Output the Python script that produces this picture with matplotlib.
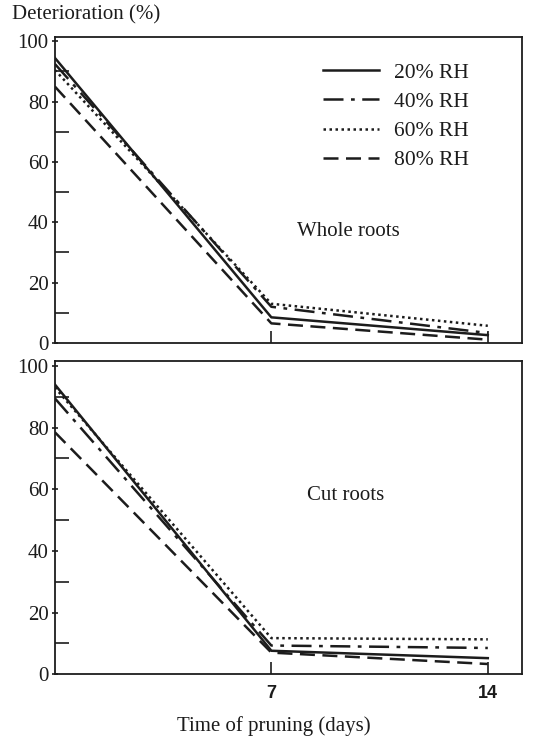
import matplotlib
matplotlib.use('Agg')
import matplotlib.pyplot as plt

plt.rcParams['font.family'] = ['Liberation Serif', 'DejaVu Serif']

days = [0, 7, 14]

labels = ['20% RH', '40% RH', '60% RH', '80% RH']

# whole roots, deterioration (%)
whole_20 = [94.5, 8.5, 2.6]
whole_40 = [92.5, 12.0, 3.3]
whole_60 = [90.5, 13.0, 5.7]
whole_80 = [85.0, 6.5, 1.1]

# cut roots, deterioration (%)
cut_20 = [94.0, 7.6, 5.2]
cut_40 = [89.5, 9.3, 8.5]
cut_60 = [93.0, 11.7, 11.3]
cut_80 = [78.5, 7.0, 3.3]

styles = ['-', (0, (8, 3, 1.5, 3)), (0, (1, 1.4)), (0, (6, 3))]
ink = '#1c1c1c'

fig = plt.figure(figsize=(5.33, 7.36), dpi=100)
ax_top = fig.add_axes([0.103, 0.534, 0.876, 0.416])
ax_bot = fig.add_axes([0.103, 0.084, 0.876, 0.425])


def setup(ax, show_x):
    ax.set_xlim(0, 15.1)
    ax.set_ylim(0, 101.5)
    ax.set_yticks([0, 20, 40, 60, 80, 100])
    ax.set_yticks([10, 30, 50, 70, 90], minor=True)
    ax.set_xticks([7, 14])
    ax.tick_params(axis='y', which='major', direction='inout', length=5,
                   width=1.2, color=ink, labelsize=15, pad=2,
                   labelcolor=ink)
    ax.tick_params(axis='y', which='minor', direction='in', length=10,
                   width=1.2, color=ink)
    ax.tick_params(axis='x', direction='in', length=9, width=1.2,
                   color=ink, pad=8, labelcolor=ink, labelbottom=show_x)
    for lbl in ax.get_xticklabels():
        lbl.set_fontfamily('Liberation Sans')
        lbl.set_fontweight('bold')
        lbl.set_fontsize(13)
    for sp in ax.spines.values():
        sp.set_color(ink)
        sp.set_linewidth(1.3)


for ys, lab, ls in zip([whole_20, whole_40, whole_60, whole_80], labels, styles):
    ax_top.plot(days, ys, linestyle=ls, color=ink, linewidth=1.8, label=lab)
for ys, lab, ls in zip([cut_20, cut_40, cut_60, cut_80], labels, styles):
    ax_bot.plot(days, ys, linestyle=ls, color=ink, linewidth=1.8, label=lab)

setup(ax_top, False)
setup(ax_bot, True)

ax_top.legend(loc='upper left', bbox_to_anchor=(0.574, 0.915), frameon=False,
              fontsize=15.5, handlelength=2.6, handletextpad=0.7,
              labelspacing=0.42, borderpad=0, borderaxespad=0,
              labelcolor=ink)

ax_top.text(9.5, 37, 'Whole roots', ha='center', va='center', fontsize=15,
            color=ink)
ax_bot.text(9.4, 58, 'Cut roots', ha='center', va='center', fontsize=15,
            color=ink)

fig.text(12 / 533, 1 - 15 / 736, 'Deterioration (%)', ha='left', va='center',
         fontsize=15, color=ink)
fig.text(274 / 533, 1 - 726 / 736, 'Time of pruning (days)', ha='center',
         va='center', fontsize=15, color=ink)

fig.savefig('out.png', dpi=100)
